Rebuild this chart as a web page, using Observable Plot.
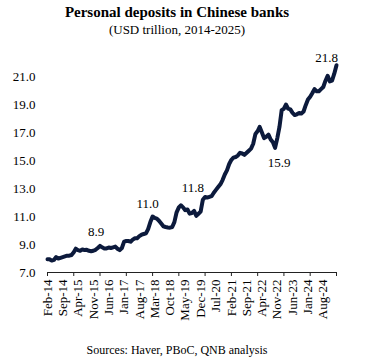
<!DOCTYPE html>
<html>
<head>
<meta charset="utf-8">
<script src="https://cdn.jsdelivr.net/npm/d3@7"></script>
<script src="https://cdn.jsdelivr.net/npm/@observablehq/plot@0.6"></script>
<style>
  html, body { margin: 0; padding: 0; background: #fff; }
  body { width: 368px; height: 362px; overflow: hidden; font-family: "Liberation Serif", "Times New Roman", serif; color: #000; }
  .head { padding-top: 4px; padding-right: 14px; text-align: center; line-height: 17px; height: 36px; }
  .title { font-weight: bold; font-size: 15px; }
  .sub { font-size: 13px; }
  .cap { margin-top: 2px; padding-right: 14px; text-align: center; font-size: 12px; line-height: 16px; }
  #chart svg { display: block; }
</style>
</head>
<body>
<div class="head">
  <div class="title">Personal deposits in Chinese banks</div>
  <div class="sub">(USD trillion, 2014-2025)</div>
</div>
<div id="chart"></div>
<div class="cap">Sources: Haver, PBoC, QNB analysis</div>
<script>
// ---- Data ----
const startMonth = "Feb-14";
const deposits = [
  7.95, 7.95, 7.85, 7.90, 8.10, 8.00, 8.05, 8.10, 8.15, 8.20, 8.20, 8.25,   // Feb-14 .. Jan-15
  8.45, 8.70, 8.60, 8.55, 8.65, 8.60, 8.62, 8.55, 8.52, 8.55, 8.62, 8.75,   // Feb-15 .. Jan-16
  8.90, 8.80, 8.72, 8.72, 8.78, 8.75, 8.80, 8.85, 8.70, 8.60, 8.75, 9.20,   // Feb-16 .. Jan-17
  9.25, 9.25, 9.20, 9.35, 9.45, 9.45, 9.60, 9.70, 9.75, 9.80, 10.10, 10.60, // Feb-17 .. Jan-18
  11.00, 10.90, 10.85, 10.70, 10.50, 10.30, 10.25, 10.22, 10.20, 10.25, 10.60, 11.30, // Feb-18 .. Jan-19
  11.65, 11.80, 11.65, 11.45, 11.50, 11.20, 11.25, 11.40, 11.05, 11.20, 11.35, 12.20, // Feb-19 .. Jan-20
  12.40, 12.35, 12.40, 12.45, 12.70, 12.90, 13.10, 13.30, 13.60, 14.00, 14.30, 14.75, // Feb-20 .. Jan-21
  15.05, 15.20, 15.25, 15.35, 15.55, 15.50, 15.40, 15.55, 15.70, 15.85, 16.20, 16.90, // Feb-21 .. Jan-22
  17.10, 17.40, 17.00, 16.60, 16.70, 16.85, 16.50, 16.30, 15.90, 16.60, 17.40, 18.60, // Feb-22 .. Jan-23
  18.70, 19.00, 18.70, 18.65, 18.40, 18.25, 18.30, 18.40, 18.35, 18.50, 18.95, 19.35, // Feb-23 .. Jan-24
  19.55, 19.80, 20.10, 19.95, 19.95, 20.10, 20.25, 20.70, 21.05, 20.65, 20.70, 21.20, // Feb-24 .. Jan-25
  21.80                                                                      // Feb-25
];
const xTickLabels = ["Feb-14","Sep-14","Apr-15","Nov-15","Jun-16","Jan-17","Aug-17","Mar-18","Oct-18","May-19","Dec-19","Jul-20","Feb-21","Sep-21","Apr-22","Nov-22","Jun-23","Jan-24","Aug-24"];
const xMajorTicks = ["Feb-14","Feb-15","Feb-16","Feb-17","Feb-18","Feb-19","Feb-20","Feb-21","Feb-22","Feb-23","Feb-24","Feb-25"];
const yTicks = [7, 9, 11, 13, 15, 17, 19, 21];
const labelMonths = ["Feb-16", "Feb-18", "Mar-19", "Oct-22", "Feb-25"];

// ---- Build table ----
const parse = d3.utcParse("%b-%y");
const fmt = d3.utcFormat("%b-%y");
const t0 = parse(startMonth);
const data = deposits.map((v, i) => ({date: d3.utcMonth.offset(t0, i), value: v}));
const byMonth = new Map(data.map(d => [fmt(d.date), d]));
const labelled = labelMonths.map(m => byMonth.get(m));

// label offsets (style, kept out of the data)
const offsets = {"Feb-16": [-4, -14], "Feb-18": [-5, -13], "Mar-19": [12, -17], "Oct-22": [4, 15], "Feb-25": [-10, -7]};

const ink = "#0c1a3c";
const labelMarks = labelled.map(d => {
  const [dx, dy] = offsets[fmt(d.date)];
  return Plot.text([d], {x: "date", y: "value", text: d => d.value.toFixed(1), dx, dy, fontSize: 13, fill: "#000"});
});

const chart = Plot.plot({
  width: 368,
  height: 300,
  marginLeft: 47,
  marginRight: 32,
  marginTop: 36,
  marginBottom: 68,
  style: {fontFamily: "'Liberation Serif', 'Times New Roman', serif", fontSize: "13px", color: "#000", background: "#fff"},
  x: {type: "utc", domain: [parse("Feb-14"), parse("Feb-25")]},
  y: {domain: [7, 21]},
  marks: [
    Plot.axisY({ticks: yTicks, tickFormat: d => d.toFixed(1), tickSize: 0, tickPadding: 12, label: null, fontSize: 13}),
    Plot.axisX({ticks: xTickLabels.map(parse), tickFormat: d => fmt(d), tickRotate: -90, tickSize: 0, tickPadding: 7, label: null, fontSize: 13}),
    Plot.axisX({ticks: xMajorTicks.map(parse), tickFormat: () => "", tickSize: 4, label: null, stroke: "#222"}),
    Plot.ruleY([7], {stroke: "#222", strokeWidth: 1}),
    Plot.line(data, {x: "date", y: "value", stroke: ink, strokeWidth: 4, strokeLinejoin: "round", strokeLinecap: "round"}),
    ...labelMarks
  ]
});
document.getElementById("chart").appendChild(chart);
</script>
</body>
</html>
